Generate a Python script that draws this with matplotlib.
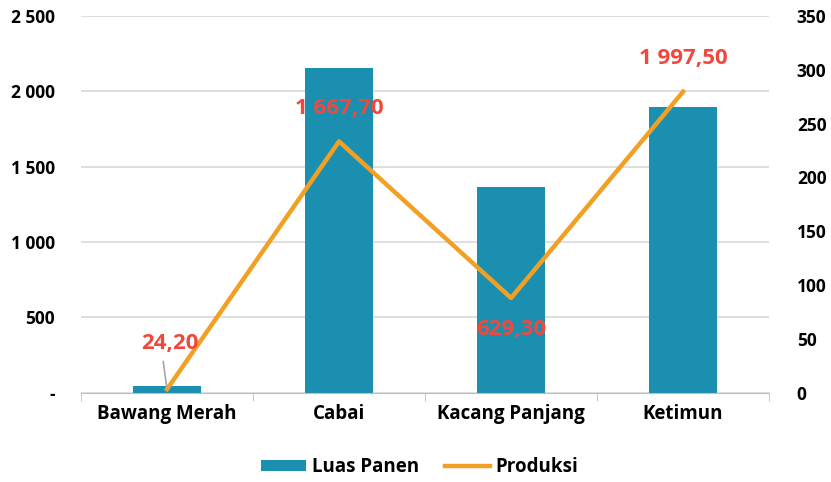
import matplotlib.pyplot as plt
import numpy as np

plt.rcParams['font.family'] = ['Open Sans', 'DejaVu Sans']
plt.rcParams['font.weight'] = 'bold'

categories = ["Bawang Merah", "Cabai", "Kacang Panjang", "Ketimun"]
luas_panen = [42, 2155, 1368, 1895]
produksi = [24.20, 1667.70, 629.30, 1997.50]
produksi_labels = ["24,20", "1 667,70", "629,30", "1 997,50"]
left_ticks = [0, 500, 1000, 1500, 2000, 2500]
left_tick_labels = ["-", "500", "1 000", "1 500", "2 000", "2 500"]
right_ticks = [0, 50, 100, 150, 200, 250, 300, 350]

bar_color = "#1b8fb0"
line_color = "#f2a024"
label_color = "#f0483c"

fig = plt.figure(figsize=(8.31, 4.82), dpi=100)
ax = fig.add_axes([0.0975, 0.185, 0.828, 0.782])
x = np.arange(len(categories))

bars = ax.bar(x, luas_panen, width=0.4, color=bar_color, label="Luas Panen", zorder=2)
line, = ax.plot(x, produksi, color=line_color, lw=3.2, label="Produksi", zorder=3)

ax.set_xlim(-0.5, len(categories) - 0.5)
ax.set_ylim(0, 2500)
ax.set_yticks(left_ticks)
ax.set_yticklabels(left_tick_labels)
ax.grid(axis="y", color="#d9d9d9", lw=1.2, zorder=0)
ax.set_axisbelow(True)
for s in ["top", "right", "left"]:
    ax.spines[s].set_visible(False)
ax.spines["bottom"].set_color("#bfbfbf")
ax.tick_params(axis="y", length=0, pad=19, labelsize=12.5)
ax.set_xticks(x)
ax.set_xticklabels(categories, fontsize=13.5)
ax.tick_params(axis="x", length=0, pad=8)
# ticks at category boundaries
ax.set_xticks(np.arange(len(categories) + 1) - 0.5, minor=True)
ax.tick_params(axis="x", which="minor", length=6, color="#bfbfbf")

ax2 = ax.twinx()
ax2.set_ylim(0, 350)
ax2.set_yticks(right_ticks)
for s in ["top", "right", "left", "bottom"]:
    ax2.spines[s].set_visible(False)
ax2.tick_params(axis="y", length=0, pad=20, labelsize=12.5)

# data labels
offsets = [(2, 33), (0, 24), (0, -23), (0, 24)]
for i, (v, t) in enumerate(zip(produksi, produksi_labels)):
    dx, dy = offsets[i]
    ax.annotate(t, (x[i], v), xytext=(dx, dy), textcoords="offset points",
                ha="center", va="center", color=label_color, fontsize=16,
                fontweight="bold", zorder=5)
ax.annotate("", (x[0], produksi[0]), xytext=(-3, 22), textcoords="offset points",
            arrowprops=dict(arrowstyle="-", color="#a6a6a6", lw=1.2))

fig.legend([bars, line], ["Luas Panen", "Produksi"], loc="center",
           bbox_to_anchor=(0.505, 0.031), ncol=2, frameon=False, fontsize=13.5,
           handlelength=2.4, handleheight=0.5, columnspacing=1.4,
           handletextpad=0.3)

plt.savefig("out.png", dpi=100)
